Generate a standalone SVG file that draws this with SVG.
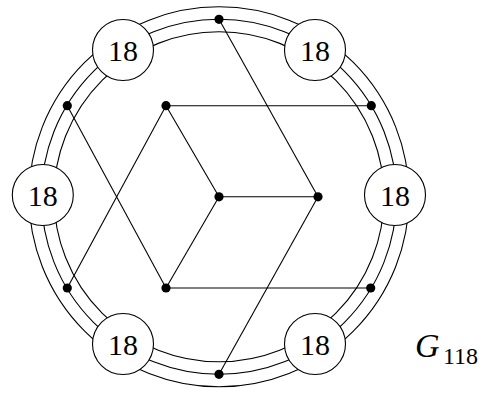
<svg xmlns="http://www.w3.org/2000/svg" width="488" height="394" viewBox="0 0 488 394">
<style>
.ring{fill:none;stroke:#000;stroke-width:1.1}
.edge{stroke:#000;stroke-width:1.1;fill:none}
.dot{fill:#000}
.node circle{fill:#fff;stroke:#000;stroke-width:1.1}
.node text{font-family:'Liberation Serif','Times New Roman',Times,serif;font-size:30px;text-anchor:middle;fill:#000}
.lbl{font-family:'Liberation Serif','Times New Roman',Times,serif;fill:#000}
</style>
<rect width="488" height="394" fill="#fff"/>
<g id="rings">
<circle class="ring" cx="219" cy="196.8" r="165"/>
<circle class="ring" cx="219" cy="196.8" r="177.5"/>
<circle class="ring" cx="219" cy="196.8" r="190"/>
</g>
<g id="connectors">
<line class="edge" x1="166" y1="105.7" x2="371.3" y2="105.7"/>
<line class="edge" x1="166" y1="288" x2="370.7" y2="288"/>
<line class="edge" x1="219" y1="196.8" x2="318" y2="196.8"/>
<line class="edge" x1="219" y1="196.8" x2="166" y2="105.7"/>
<line class="edge" x1="219" y1="196.8" x2="166" y2="288"/>
<line class="edge" x1="166" y1="105.7" x2="67.3" y2="288"/>
<line class="edge" x1="67.3" y1="105.7" x2="166" y2="288"/>
<line class="edge" x1="219" y1="19.3" x2="318" y2="196.8"/>
<line class="edge" x1="219" y1="374.3" x2="318" y2="196.8"/>
</g>
<g id="dots">
<circle class="dot" cx="166" cy="105.7" r="4.6"/>
<circle class="dot" cx="166" cy="288" r="4.6"/>
<circle class="dot" cx="219" cy="196.8" r="4.6"/>
<circle class="dot" cx="318" cy="196.8" r="4.6"/>
<circle class="dot" cx="67.3" cy="105.7" r="4.6"/>
<circle class="dot" cx="371.3" cy="105.7" r="4.6"/>
<circle class="dot" cx="67.3" cy="288" r="4.6"/>
<circle class="dot" cx="370.7" cy="288" r="4.6"/>
<circle class="dot" cx="219" cy="19.3" r="4.6"/>
<circle class="dot" cx="219" cy="374.3" r="4.6"/>
</g>
<g id="n1" class="node"><circle cx="123" cy="50" r="30.5"/><text x="123" y="61">18</text></g>
<g id="n2" class="node"><circle cx="315" cy="50" r="30.5"/><text x="315" y="61">18</text></g>
<g id="n3" class="node"><circle cx="42.8" cy="195" r="30.5"/><text x="42.8" y="206">18</text></g>
<g id="n4" class="node"><circle cx="395" cy="195" r="30.5"/><text x="395" y="206">18</text></g>
<g id="n5" class="node"><circle cx="123" cy="344" r="30.5"/><text x="123" y="355">18</text></g>
<g id="n6" class="node"><circle cx="315" cy="344" r="30.5"/><text x="315" y="355">18</text></g>
<g id="label"><text class="lbl" x="415" y="357" font-size="34" font-style="italic">G</text><text class="lbl" x="443" y="363.5" font-size="24">118</text></g>
</svg>
